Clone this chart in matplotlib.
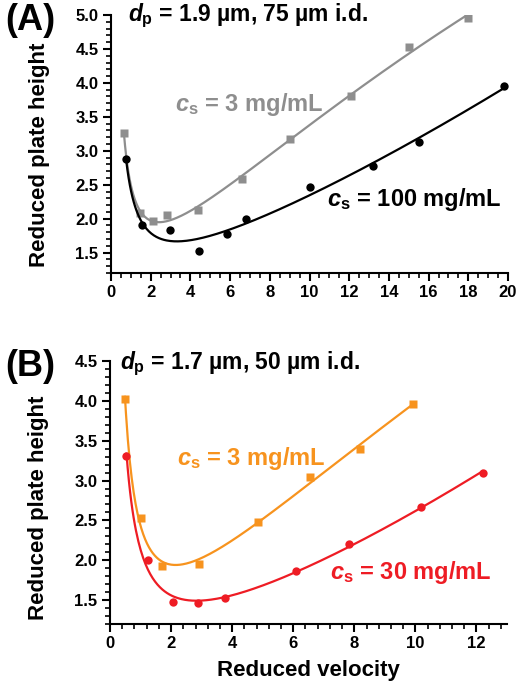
import numpy as np
import matplotlib
matplotlib.use("Agg")
import matplotlib.pyplot as plt
from matplotlib.ticker import MultipleLocator

plt.rcParams['font.family'] = ['Liberation Sans', 'DejaVu Sans']
plt.rcParams['font.weight'] = 'bold'
plt.rcParams['mathtext.fontset'] = 'custom'
plt.rcParams['mathtext.it'] = 'Liberation Sans:bold:italic'
plt.rcParams['mathtext.rm'] = 'Liberation Sans:bold'
plt.rcParams['mathtext.bf'] = 'Liberation Sans:bold'

# panel A: dp = 1.9 um, 75 um i.d.
vA3 = [0.65, 1.46, 2.1, 2.8, 4.4, 6.6, 9.0, 12.1, 15.0, 18.0]
hA3 = [3.26, 2.09, 1.97, 2.05, 2.13, 2.59, 3.17, 3.80, 4.53, 4.96]
vA100 = [0.76, 1.55, 2.96, 4.43, 5.83, 6.78, 10.0, 13.2, 15.5, 19.8]
hA100 = [2.88, 1.90, 1.84, 1.53, 1.77, 1.99, 2.46, 2.78, 3.13, 3.95]

# panel B: dp = 1.7 um, 50 um i.d.
vB3 = [0.49, 1.01, 1.69, 2.91, 4.86, 6.54, 8.18, 9.92]
hB3 = [4.02, 2.53, 1.93, 1.95, 2.48, 3.05, 3.40, 3.96]
vB30 = [0.54, 1.25, 2.07, 2.88, 3.78, 6.09, 7.82, 10.2, 12.2]
hB30 = [3.31, 2.00, 1.47, 1.46, 1.52, 1.86, 2.20, 2.67, 3.10]

GRAY = '#8e8e8e'
ORANGE = '#f7931e'
RED = '#ee1c24'
W, H = 523, 687


def vd_fit(v, h):
    # van Deemter-like least squares fit, h = a + b/v + c*v + d*v^2
    v = np.asarray(v)
    M = np.column_stack([np.ones_like(v), 1 / v, v, v ** 2])
    coef = np.linalg.lstsq(M, np.asarray(h), rcond=None)[0]
    xx = np.linspace(v.min(), v.max(), 300)
    yy = coef[0] + coef[1] / xx + coef[2] * xx + coef[3] * xx ** 2
    return xx, yy


def fpos(x, y):
    return x / W, 1 - y / H


def style(ax, xmaj, xmin, xlim, ylim):
    ax.set_xlim(*xlim)
    ax.set_ylim(*ylim)
    for s in ['top', 'right']:
        ax.spines[s].set_visible(False)
    for s in ['left', 'bottom']:
        ax.spines[s].set_linewidth(1.5)
    ax.xaxis.set_major_locator(MultipleLocator(xmaj))
    ax.xaxis.set_minor_locator(MultipleLocator(xmin))
    ax.yaxis.set_major_locator(MultipleLocator(0.5))
    ax.yaxis.set_minor_locator(MultipleLocator(0.1))
    ax.tick_params(which='major', direction='out', length=6, width=1.5, labelsize=12, pad=3)
    ax.tick_params(which='minor', direction='out', length=3.5, width=1.2)
    ax.yaxis.set_major_formatter(matplotlib.ticker.FormatStrFormatter('%.1f'))
    for lab in ax.get_xticklabels() + ax.get_yticklabels():
        lab.set_fontweight('bold')


fig = plt.figure(figsize=(W / 100, H / 100), dpi=100)

# axes rectangles from pixel extents
axA = fig.add_axes([111 / W, 1 - 273 / H, 397 / W, 258 / H])
axB = fig.add_axes([110 / W, 1 - 624 / H, 397 / W, 263 / H])

style(axA, 2, 0.5, (0, 20), (1.2, 5.0))
style(axB, 2, 0.4, (0, 13), (1.2, 4.5))

xx, yy = vd_fit(vA3, hA3)
axA.plot(xx, yy, color=GRAY, lw=1.6)
axA.plot(vA3, hA3, 's', color=GRAY, ms=5.5, mec='none')
xx, yy = vd_fit(vA100, hA100)
axA.plot(xx, yy, color='black', lw=1.6)
axA.plot(vA100, hA100, 'o', color='black', ms=6, mec='none')

xx, yy = vd_fit(vB3, hB3)
axB.plot(xx, yy, color=ORANGE, lw=1.6)
axB.plot(vB3, hB3, 's', color=ORANGE, ms=5.5, mec='none')
xx, yy = vd_fit(vB30, hB30)
axB.plot(xx, yy, color=RED, lw=1.6)
axB.plot(vB30, hB30, 'o', color=RED, ms=6, mec='none')

axA.set_ylabel('Reduced plate height', fontsize=16, fontweight='bold')
axA.yaxis.set_label_coords(-0.154, 0.46)
axB.set_ylabel('Reduced plate height', fontsize=16, fontweight='bold')
axB.yaxis.set_label_coords(-0.154, 0.44)
axB.set_xlabel('Reduced velocity', fontsize=16, fontweight='bold', labelpad=6)

fig.text(*fpos(5, 20), '(A)', fontsize=26, fontweight='bold', ha='left', va='center')
fig.text(*fpos(5, 366), '(B)', fontsize=26, fontweight='bold', ha='left', va='center')
fig.text(*fpos(128, 16), r'$d_\mathrm{p}$ = 1.9 µm, 75 µm i.d.', fontsize=16.5,
         ha='left', va='center')
fig.text(*fpos(120, 364), r'$d_\mathrm{p}$ = 1.7 µm, 50 µm i.d.', fontsize=16.5,
         ha='left', va='center')
fig.text(*fpos(175, 105), r'$c_\mathrm{s}$ = 3 mg/mL', fontsize=17, color=GRAY,
         ha='left', va='center')
fig.text(*fpos(327, 199), r'$c_\mathrm{s}$ = 100 mg/mL', fontsize=17, color='black',
         ha='left', va='center')
fig.text(*fpos(177, 459), r'$c_\mathrm{s}$ = 3 mg/mL', fontsize=17, color=ORANGE,
         ha='left', va='center')
fig.text(*fpos(330, 573), r'$c_\mathrm{s}$ = 30 mg/mL', fontsize=17, color=RED,
         ha='left', va='center')

fig.savefig('out.png', dpi=100)
